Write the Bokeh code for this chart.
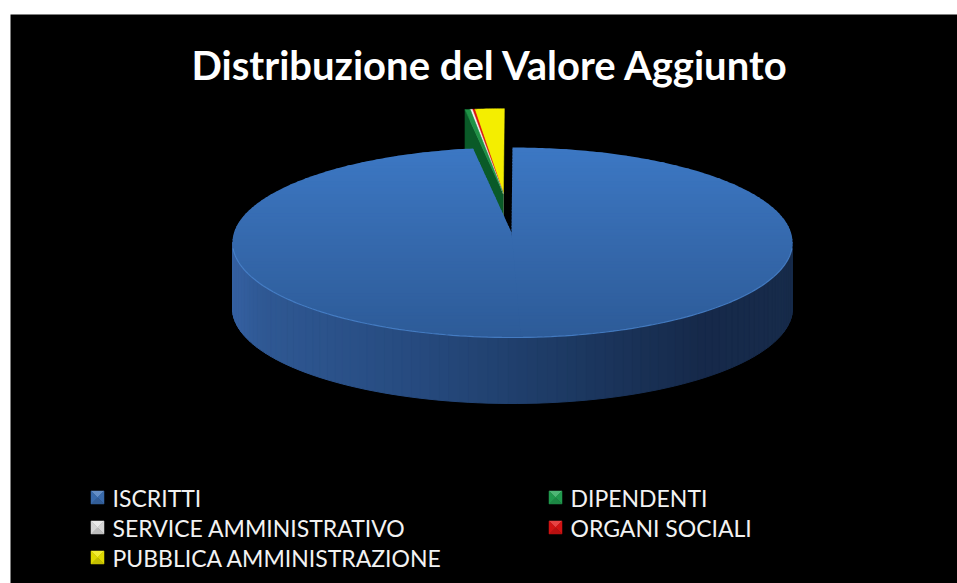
import numpy as np
from bokeh.plotting import figure
from bokeh.models import Range1d
from bokeh.core.properties import value
from bokeh.embed import file_html
from bokeh.resources import INLINE

# ---------------- data ----------------
title = "Distribuzione del Valore Aggiunto"
categories = ["ISCRITTI", "DIPENDENTI", "SERVICE AMMINISTRATIVO",
              "ORGANI SOCIALI", "PUBBLICA AMMINISTRAZIONE"]
values = [97.75, 0.3, 0.12, 0.13, 1.7]
exploded = [False, True, True, True, True]
top_colors = ["#3a72bc", "#1f9246", "#f4f4f4", "#e01212", "#f4ee00"]
cut_colors = ["#1d3a63", "#0a5a28", "#bdbdbd", "#8a0c0c", "#8d8a00"]
legend_colors = ["#3d72b8", "#22a553", "#e6e6e6", "#e01414", "#eee800"]
legend_col = [0, 1, 0, 1, 0]
legend_row = [0, 0, 1, 1, 2]

# ---------------- figure ----------------
W, H = 957, 583
p = figure(width=W, height=H, x_range=Range1d(10, 957), y_range=Range1d(583, 14),
           output_backend="svg", toolbar_location=None,
           x_axis_location=None, y_axis_location=None,
           min_border_left=10, min_border_top=14, min_border_right=0, min_border_bottom=0)
p.grid.visible = False
p.border_fill_color = "white"
p.background_fill_color = "black"
p.outline_line_color = None

# ---------------- pie geometry ----------------
cx, cy, rx, ry, depth = 512, 242, 280, 95, 66
apx, apy = 511, 232          # perspective: projected centre of the pie
explode = 0.41

frac = np.array(values) / sum(values)
ends = np.cumsum(frac) * 2 * np.pi
starts = np.concatenate([[0], ends[:-1]])


def pt(th, ox=0.0, oy=0.0):
    return (cx + ox + rx * np.sin(th), cy + oy - ry * np.cos(th))


def hex2rgb(h):
    h = h.lstrip("#")
    return np.array([int(h[i:i + 2], 16) for i in (0, 2, 4)], float)


def rgb2hex(c):
    c = np.clip(np.round(c), 0, 255).astype(int)
    return "#%02x%02x%02x" % tuple(c)


def interp_color(stops, t):
    ts = [s[0] for s in stops]
    cs = [hex2rgb(s[1]) for s in stops]
    t = min(max(t, ts[0]), ts[-1])
    for i in range(len(ts) - 1):
        if ts[i] <= t <= ts[i + 1]:
            u = (t - ts[i]) / (ts[i + 1] - ts[i])
            return rgb2hex(cs[i] * (1 - u) + cs[i + 1] * u)
    return rgb2hex(cs[-1])


def clip(poly, keep, inter):
    out = []
    n = len(poly)
    for i in range(n):
        cur, prev = poly[i], poly[i - 1]
        ci, pi_ = keep(cur), keep(prev)
        if ci:
            if not pi_:
                out.append(inter(prev, cur))
            out.append(cur)
        elif pi_:
            out.append(inter(prev, cur))
    return out


def iy(a, b, yc):
    t = (yc - a[1]) / (b[1] - a[1])
    return (a[0] + t * (b[0] - a[0]), yc)


# exploded group offset (common mid-angle of the exploded slices)
ex_idx = [i for i in range(len(values)) if exploded[i]]
mid_ex = (starts[ex_idx[0]] + ends[ex_idx[-1]]) / 2
ox = explode * rx * np.sin(mid_ex)
oy = -explode * ry * np.cos(mid_ex)

# exploded slices: cut faces (right to left), then top faces
xs, ys, fc = [], [], []
for i in reversed(ex_idx):
    a = (apx + ox, apy + oy)
    b = pt(starts[i], ox, oy)
    xs.append([a[0], b[0], b[0], a[0]])
    ys.append([a[1], b[1], b[1] + depth, a[1] + depth])
    fc.append(cut_colors[i])
p.patches(xs, ys, fill_color=fc, line_color=fc, line_width=0.5)

xs, ys, fc = [], [], []
for i in reversed(ex_idx):
    th = np.linspace(starts[i], ends[i], 20)
    a = (apx + ox, apy + oy)
    arc = [pt(t, ox, oy) for t in th]
    xs.append([a[0]] + [q[0] for q in arc])
    ys.append([a[1]] + [q[1] for q in arc])
    fc.append(top_colors[i])
p.patches(xs, ys, fill_color=fc, line_color=fc, line_width=0.5)

# main slice: outer side (front half) in vertical strips
side_stops = [(232, "#3561a2"), (262, "#2f5893"), (420, "#264a7e"),
              (560, "#1d3a64"), (700, "#16294a"), (792, "#172b4a")]
th = np.linspace(np.pi / 2, 3 * np.pi / 2, 90)
xs, ys, fc = [], [], []
for k in range(len(th) - 1):
    a, b = pt(th[k]), pt(th[k + 1])
    xs.append([a[0], b[0], b[0], a[0]])
    ys.append([a[1], b[1], b[1] + depth, a[1] + depth])
    fc.append(interp_color(side_stops, (a[0] + b[0]) / 2))
p.patches(xs, ys, fill_color=fc, line_color=fc, line_width=1)

# main slice: top face as two overlapping convex sectors, cut in horizontal gradient bands
top_stops = [(cy - ry, "#3c78c4"), (cy, "#3569ad"), (cy + ry, "#2d5b98")]
pieces = [(starts[0], np.pi + 0.03), (np.pi - 0.03, ends[0])]
nb = 60
edges = np.linspace(cy - ry - 1, cy + ry + 1, nb + 1)
xs, ys, fc = [], [], []
for (a0, a1) in pieces:
    arc = [pt(t) for t in np.linspace(a0, a1, 240)]
    poly = [(apx, apy)] + arc
    for k in range(nb):
        y0, y1 = edges[k] - 0.4, edges[k + 1] + 0.4
        q = clip(poly, lambda P: P[1] >= y0, lambda A, B: iy(A, B, y0))
        q = clip(q, lambda P: P[1] <= y1, lambda A, B: iy(A, B, y1)) if q else []
        if len(q) >= 3:
            xs.append([P[0] for P in q])
            ys.append([P[1] for P in q])
            fc.append(interp_color(top_stops, (y0 + y1) / 2))
p.patches(xs, ys, fill_color=fc, line_color=None)

# subtle rim highlight on the front edge
rim = [pt(t) for t in np.linspace(np.pi * 0.52, np.pi * 1.48, 120)]
p.line([q[0] for q in rim], [q[1] for q in rim], line_color="#4b86cf", line_width=1.2, line_alpha=0.8)

# ---------------- title ----------------
p.text(x=[490], y=[64], text=[title], text_color="white",
       text_font=value("Lato"), text_font_style="bold", text_font_size="40px",
       text_align="center", text_baseline="middle")

# ---------------- legend ----------------
col_x = [97, 555]
row_y = [497, 527, 557]
s = 6.5
mx, my, mc = [], [], []
tx, ty, tt = [], [], []
for i, name in enumerate(categories):
    x0 = col_x[legend_col[i]]
    y0 = row_y[legend_row[i]]
    base = hex2rgb(legend_colors[i])
    light = rgb2hex(base + (255 - base) * 0.2)
    dark = rgb2hex(base * 0.82)
    mid = rgb2hex(base * 0.93)
    c = (x0, y0)
    tl, tr, br, bl = (x0 - s, y0 - s), (x0 + s, y0 - s), (x0 + s, y0 + s), (x0 - s, y0 + s)
    for tri, col in [((tl, tr, c), light), ((tr, br, c), mid), ((br, bl, c), dark), ((bl, tl, c), mid)]:
        mx.append([P[0] for P in tri])
        my.append([P[1] for P in tri])
        mc.append(col)
    tx.append(x0 + 15)
    ty.append(y0)
    tt.append(name)
p.patches(mx, my, fill_color=mc, line_color=mc, line_width=0.5)
p.text(x=tx, y=ty, text=tt, text_color="#f2f2f2", text_font=value("Lato"),
       text_font_size="23px", text_align="left", text_baseline="middle")

open("out.html", "w").write(file_html(p, INLINE))
